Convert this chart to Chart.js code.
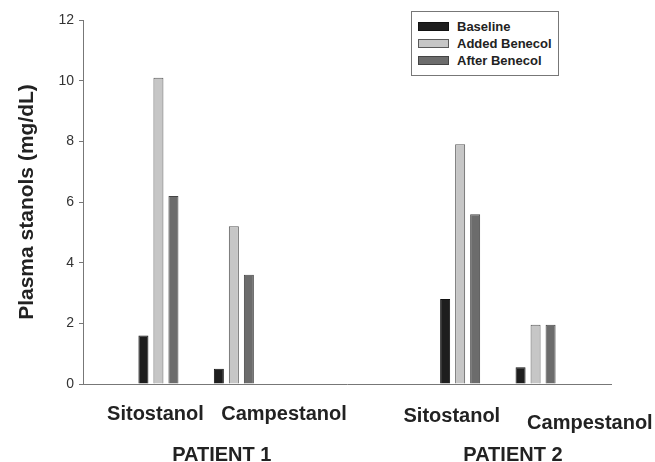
<!DOCTYPE html>
<html>
<head>
<meta charset="utf-8">
<script src="https://cdn.jsdelivr.net/npm/chart.js@4.4.1/dist/chart.umd.min.js"></script>
<style>
  body { margin: 0; background: #fff; }
  #wrap { position: relative; width: 655px; height: 462px; }
  #legend {
    position: absolute; left: 411px; top: 11px; width: 148px; height: 65px;
    box-sizing: border-box; border: 1px solid #777; background: #fff;
    padding: 6px 0 0 6px;
    font: bold 13px "Liberation Sans", Arial, sans-serif; color: #222;
  }
  #legend .row { height: 17px; display: flex; align-items: center; }
  #legend .sw { width: 31px; height: 9px; box-sizing: border-box; margin-right: 8px; }
</style>
</head>
<body>
<div id="wrap">
  <canvas id="myChart"></canvas>
  <div id="legend"></div>
</div>
<script>
const categories = ["", "Sitostanol", "Campestanol", "", "", "Sitostanol", "Campestanol", ""];
const baseline = [null, 1.6, 0.5, null, null, 2.8, 0.55, null];
const addedBenecol = [null, 10.1, 5.2, null, null, 7.9, 1.95, null];
const afterBenecol = [null, 6.2, 3.6, null, null, 5.6, 1.95, null];
const yTicks = [0, 2, 4, 6, 8, 10, 12];
const patients = ["PATIENT 1", "PATIENT 2"];

// where the texts under the axis sit (category units, px below the axis)
const catLabelAt = [0.96, 2.665, 4.89, 6.72];
const catLabelDrop = [36, 36, 38, 45];
const patientAt = [1.84, 5.7];
const patientDrop = 77;

const FONT = "'Liberation Sans', Arial, sans-serif";
Chart.defaults.font.family = FONT;

// labels under the x axis
const axisLabels = {
  id: "axisLabels",
  afterDraw(chart) {
    const { ctx, chartArea, scales } = chart;
    const x = scales.x;
    ctx.save();
    ctx.fillStyle = "#222";
    ctx.textAlign = "center";
    ctx.textBaseline = "alphabetic";
    ctx.font = "bold 20px " + FONT;
    const named = categories.filter((c) => c !== "");
    named.forEach((c, i) => {
      ctx.fillText(c, x.getPixelForValue(catLabelAt[i]), chartArea.bottom + catLabelDrop[i]);
    });
    patients.forEach((p, i) => {
      ctx.fillText(p, x.getPixelForValue(patientAt[i]), chartArea.bottom + patientDrop);
    });
    ctx.restore();
  },
};

// html legend with a frame, built from the datasets
const htmlLegend = {
  id: "htmlLegend",
  afterUpdate(chart) {
    const box = document.getElementById("legend");
    box.innerHTML = "";
    chart.data.datasets.forEach((ds) => {
      const row = document.createElement("div");
      row.className = "row";
      const sw = document.createElement("span");
      sw.className = "sw";
      sw.style.background = ds.backgroundColor;
      sw.style.border = "1px solid " + ds.borderColor;
      row.appendChild(sw);
      row.appendChild(document.createTextNode(ds.label));
      box.appendChild(row);
    });
  },
};

const data = {
  labels: categories,
  datasets: [
    {
      label: "Baseline",
      data: baseline,
      backgroundColor: "#1e1e1e",
      borderColor: "#111",
      borderWidth: 1,
    },
    {
      label: "Added Benecol",
      data: addedBenecol,
      backgroundColor: "#c6c6c6",
      borderColor: "#5a5a5a",
      borderWidth: 1,
    },
    {
      label: "After Benecol",
      data: afterBenecol,
      backgroundColor: "#6c6c6c",
      borderColor: "#444",
      borderWidth: 1,
    },
  ],
};

const config = {
  type: "bar",
  data: data,
  options: {
    responsive: true,
    maintainAspectRatio: false,
    animation: false,
    categoryPercentage: 0.597,
    barPercentage: 0.667,
    layout: { padding: { left: 0, top: 20, right: 44, bottom: 0 } },
    plugins: {
      legend: { display: false },
      tooltip: { enabled: false },
    },
    scales: {
      x: {
        offset: false,
        grid: { display: false },
        border: { color: "#777", width: 1 },
        ticks: { display: false },
        afterFit: (axis) => { axis.height = 78; },
      },
      y: {
        min: 0,
        max: 12,
        afterBuildTicks: (axis) => { axis.ticks = yTicks.map((v) => ({ value: v })); },
        ticks: { color: "#333", font: { size: 14 }, padding: 5 },
        grid: { drawOnChartArea: false, drawTicks: true, tickLength: 4, color: "#777" },
        border: { color: "#777", width: 1 },
        title: {
          display: true,
          text: "Plasma stanols (mg/dL)",
          color: "#222",
          font: { size: 21, weight: "bold" },
          padding: { top: 15, bottom: 0 },
        },
        afterFit: (axis) => { axis.width = 83; },
      },
    },
  },
  plugins: [axisLabels, htmlLegend],
};

const ctx = document.getElementById("myChart").getContext("2d");
const myChart = new Chart(ctx, config);
</script>
</body>
</html>
